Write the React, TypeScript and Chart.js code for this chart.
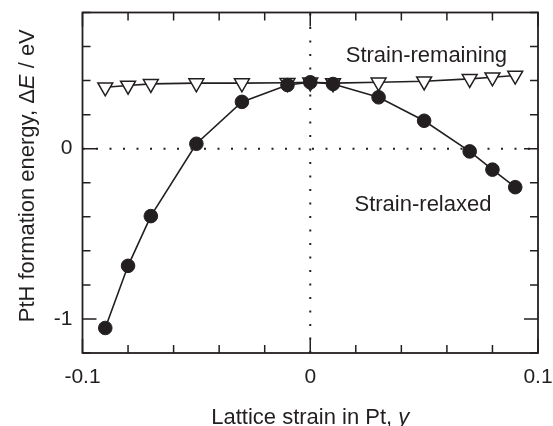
import React, { useEffect, useRef } from "react";
import { Chart, registerables } from "chart.js";
Chart.register(...registerables);

const strainX = [-0.09, -0.08, -0.07, -0.05, -0.03, -0.01, 0, 0.01, 0.03, 0.05, 0.07, 0.08, 0.09];
const relaxedE = [-1.053, -0.688, -0.396, 0.029, 0.275, 0.374, 0.39, 0.38, 0.302, 0.164, -0.016, -0.123, -0.226];
const remainingE = [0.361, 0.371, 0.381, 0.385, 0.385, 0.387, 0.39, 0.385, 0.39, 0.396, 0.41, 0.42, 0.43];
const xLabelValues = [-0.1, 0, 0.1];
const yLabelValues = [-1, 0];
const seriesNames = ["Strain-relaxed", "Strain-remaining"];
const xTitle = [
  { t: "Lattice strain in Pt, ", i: false },
  { t: "y", i: true },
];
const yTitle = [
  { t: "PtH formation energy, \u0394", i: false },
  { t: "E", i: true },
  { t: " / eV", i: false },
];

const INK = "#231f20";
const FAMILY = "'Liberation Sans', Arial, Helvetica, sans-serif";

function drawRich(ctx: CanvasRenderingContext2D, segs: { t: string; i: boolean }[], size: number) {
  let total = 0;
  const widths: number[] = [];
  for (const s of segs) {
    ctx.font = `${s.i ? "italic " : ""}${size}px ${FAMILY}`;
    const w = ctx.measureText(s.t).width;
    widths.push(w);
    total += w;
  }
  let x = -total / 2;
  segs.forEach((s, k) => {
    ctx.font = `${s.i ? "italic " : ""}${size}px ${FAMILY}`;
    ctx.fillText(s.t, x, 0);
    x += widths[k];
  });
}

function near(v: number, list: number[]) {
  return list.some((l) => Math.abs(v - l) < 1e-6);
}

const framePlugin = {
  id: "framePlugin",
  beforeDatasetsDraw(chart: any) {
    const { ctx, chartArea: a, scales } = chart;
    const xs = scales.x, ys = scales.y;
    ctx.save();
    ctx.strokeStyle = INK;
    ctx.lineWidth = 2;
    ctx.setLineDash([2, 11.5]);
    const x0 = xs.getPixelForValue(0);
    const y0 = ys.getPixelForValue(0);
    ctx.beginPath();
    ctx.moveTo(a.left, y0);
    ctx.lineTo(a.right, y0);
    ctx.moveTo(x0, a.bottom);
    ctx.lineTo(x0, a.top);
    ctx.stroke();
    ctx.restore();
  },
  afterDatasetsDraw(chart: any) {
    const { ctx, chartArea: a, scales } = chart;
    const xs = scales.x, ys = scales.y;
    ctx.save();
    ctx.strokeStyle = INK;
    ctx.lineWidth = 1.8;
    ctx.setLineDash([]);
    ctx.strokeRect(a.left, a.top, a.right - a.left, a.bottom - a.top);
    ctx.lineWidth = 1.5;
    ctx.beginPath();
    for (const t of xs.ticks) {
      const px = xs.getPixelForValue(t.value);
      const TL = near(t.value, xLabelValues) ? 14 : 8;
      ctx.moveTo(px, a.bottom);
      ctx.lineTo(px, a.bottom - TL);
      ctx.moveTo(px, a.top);
      ctx.lineTo(px, a.top + TL);
    }
    for (const t of ys.ticks) {
      const py = ys.getPixelForValue(t.value);
      const TL = near(t.value, yLabelValues) ? 14 : 8;
      ctx.moveTo(a.left, py);
      ctx.lineTo(a.left + TL, py);
      ctx.moveTo(a.right, py);
      ctx.lineTo(a.right - TL, py);
    }
    ctx.stroke();

    ctx.fillStyle = INK;
    ctx.textBaseline = "alphabetic";
    ctx.textAlign = "left";
    ctx.save();
    ctx.translate(xs.getPixelForValue(0.051), ys.getPixelForValue(0.512));
    drawRich(ctx, [{ t: seriesNames[1], i: false }], 22);
    ctx.restore();
    ctx.save();
    ctx.translate(xs.getPixelForValue(0.0495), ys.getPixelForValue(-0.366));
    drawRich(ctx, [{ t: seriesNames[0], i: false }], 22);
    ctx.restore();
    ctx.save();
    ctx.translate((a.left + a.right) / 2, 424);
    drawRich(ctx, xTitle, 22);
    ctx.restore();
    ctx.save();
    ctx.translate(33.5, (a.top + a.bottom) / 2 - 7);
    ctx.rotate(-Math.PI / 2);
    drawRich(ctx, yTitle, 22);
    ctx.restore();
    ctx.restore();
  },
};

export default function App() {
  const ref = useRef<HTMLCanvasElement | null>(null);
  useEffect(() => {
    if (!ref.current) return;
    const chart = new Chart(ref.current, {
      type: "scatter",
      data: {
        datasets: [
          {
            label: seriesNames[0],
            data: strainX.map((x, i) => ({ x, y: relaxedE[i] })),
            showLine: true,
            borderColor: INK,
            borderWidth: 1.6,
            pointStyle: "circle",
            pointRadius: 6.8,
            pointBackgroundColor: INK,
            pointBorderColor: INK,
            pointBorderWidth: 1,
          },
          {
            label: seriesNames[1],
            data: strainX.map((x, i) => ({ x, y: remainingE[i] })),
            showLine: true,
            borderColor: INK,
            borderWidth: 1.6,
            pointStyle: "triangle",
            rotation: 180,
            pointRadius: 8.6,
            pointBackgroundColor: "#ffffff",
            pointBorderColor: INK,
            pointBorderWidth: 1.5,
          },
        ],
      },
      options: {
        responsive: false,
        animation: false,
        events: [],
        layout: { padding: { left: 0, top: 12.5, right: 15, bottom: 0 } },
        plugins: { legend: { display: false }, tooltip: { enabled: false } },
        scales: {
          x: {
            type: "linear",
            min: -0.1,
            max: 0.1,
            afterFit: (s: any) => {
              s.height = 73;
              s.paddingLeft = 0;
              s.paddingRight = 0;
              s.paddingTop = 0;
              s.paddingBottom = 0;
            },
            grid: { display: false, drawTicks: false },
            border: { display: false },
            ticks: {
              stepSize: 0.02,
              autoSkip: false,
              maxRotation: 0,
              padding: 12,
              color: INK,
              font: { family: FAMILY, size: 21 },
              callback: (v: any) => {
                const n = Number(v);
                return near(n, xLabelValues) ? String(Math.round(n * 10) / 10) : "";
              },
            },
          },
          y: {
            type: "linear",
            min: -1.2,
            max: 0.8,
            afterFit: (s: any) => {
              s.width = 82.5;
              s.paddingLeft = 0;
              s.paddingRight = 0;
              s.paddingTop = 0;
              s.paddingBottom = 0;
            },
            grid: { display: false, drawTicks: false },
            border: { display: false },
            ticks: {
              stepSize: 0.2,
              autoSkip: false,
              padding: 10,
              color: INK,
              font: { family: FAMILY, size: 21 },
              callback: (v: any) => {
                const n = Number(v);
                return near(n, yLabelValues) ? String(Math.round(n)) : "";
              },
            },
          },
        },
      },
      plugins: [framePlugin],
    } as any);
    return () => chart.destroy();
  }, []);
  return (
    <div style={{ position: "absolute", left: 0, top: 0, width: 553, height: 426, background: "#fff" }}>
      <canvas ref={ref} width={553} height={426} style={{ display: "block" }} />
    </div>
  );
}
